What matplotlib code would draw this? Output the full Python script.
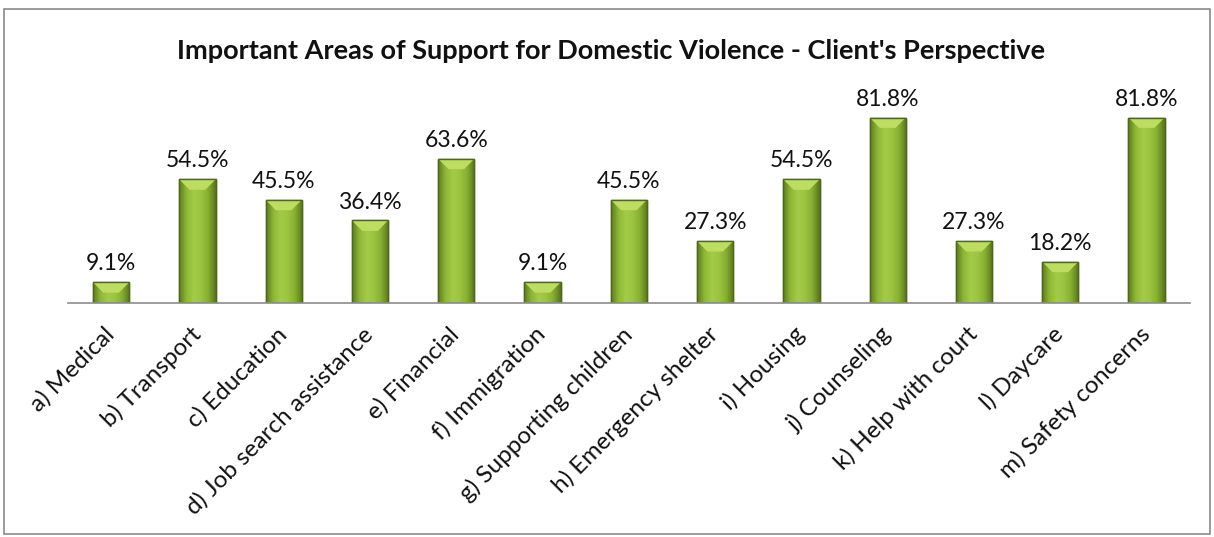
import matplotlib.pyplot as plt
import numpy as np
import matplotlib.transforms as mtransforms
from matplotlib.patches import Rectangle, Polygon
from matplotlib.colors import LinearSegmentedColormap

plt.rcParams['font.family'] = ['Lato', 'DejaVu Sans']

categories = ['a) Medical', 'b) Transport', 'c) Education', 'd) Job search assistance',
              'e) Financial', 'f) Immigration', 'g) Supporting children',
              'h) Emergency shelter', 'i) Housing', 'j) Counseling',
              'k) Help with court', 'l) Daycare', 'm) Safety concerns']
values = [9.1, 54.5, 45.5, 36.4, 63.6, 9.1, 45.5, 27.3, 54.5, 81.8, 27.3, 18.2, 81.8]
title = "Important Areas of Support for Domestic Violence - Client's Perspective"

fig = plt.figure(figsize=(12.14, 5.37), dpi=100)
ax = fig.add_axes([0.056, 0.4358, 0.924, 0.38])

x = np.arange(len(categories))
width = 0.42
bars = ax.bar(x, values, width=width, color='#96bd3c', edgecolor='#4e681c', linewidth=1.0, zorder=2)

# horizontal shading across each bar: dark rims, lighter face
shade = LinearSegmentedColormap.from_list('shade', ['#5d7c22', '#8fb737', '#a3cb47', '#9cc441', '#86ad31', '#587520'])
grad = np.linspace(0, 1, 64).reshape(1, -1)
bevel = 4.6
for b, v in zip(bars, values):
    x0 = b.get_x()
    w = b.get_width()
    im = ax.imshow(grad, cmap=shade, aspect='auto', extent=(x0, x0 + w, 0, v), zorder=3)
    im.set_clip_path(b)
    d = min(bevel, v / 2)
    top = Polygon([(x0, v), (x0 + w, v), (x0 + w - 0.12, v - d), (x0 + 0.12, v - d)],
                  closed=True, facecolor='#bcdc62', edgecolor='none', zorder=4)
    ax.add_patch(top)
    ax.add_patch(Rectangle((x0, 0), w, v, fill=False, edgecolor='#4e681c', linewidth=1.0, zorder=5))
    ax.text(b.get_x() + w / 2, v + 3.5, f'{v:.1f}%', ha='center', va='bottom', fontsize=16.5, color='#111111')

ax.set_xlim(-0.5, len(categories) - 0.5)
ax.set_ylim(0, 90)
ax.set_yticks([])
ax.set_xticks(x)
ax.set_xticklabels(categories, rotation=45, ha='right', rotation_mode='anchor', fontsize=17.5, color='#111111')
ax.tick_params(axis='x', length=0, pad=13)
shift = mtransforms.ScaledTranslation(-8 / 100, -2 / 100, fig.dpi_scale_trans)
for lbl in ax.get_xticklabels():
    lbl.set_transform(lbl.get_transform() + shift)
for s in ['top', 'right', 'left']:
    ax.spines[s].set_visible(False)
ax.spines['bottom'].set_color('#8c8c8c')
ax.spines['bottom'].set_linewidth(1.2)
ax.spines['bottom'].set_zorder(6)

fig.text(0.503, 0.905, title, ha='center', va='center', fontsize=19.5, fontweight='bold', color='#111111')

# outer frame of the chart area
fig.patches.append(Rectangle((0.0033, 0.0056), 0.993, 0.978, transform=fig.transFigure,
                             fill=False, edgecolor='#8a8a8a', linewidth=1.2))

fig.savefig('out.png', dpi=100)
